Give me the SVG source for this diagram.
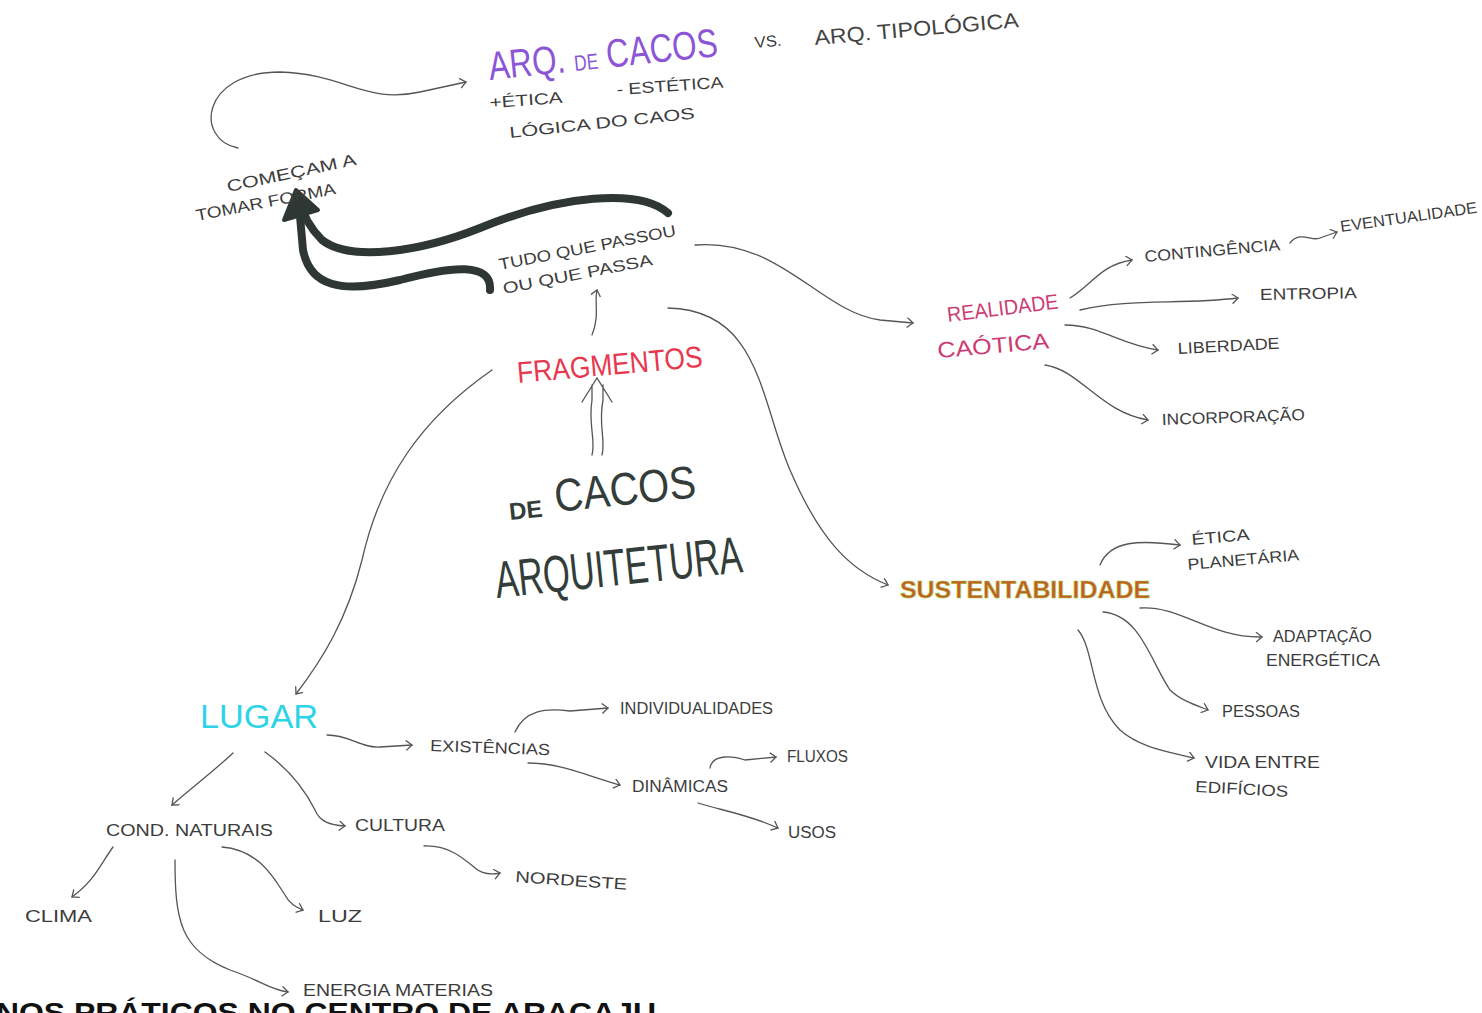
<svg xmlns="http://www.w3.org/2000/svg" width="1482" height="1013" viewBox="0 0 1482 1013">
<style>
text{font-family:"Liberation Sans",Arial,sans-serif;}
.h{font-size:16px;fill:#3c3c3c;}
.c{fill:none;stroke:#555;stroke-width:1.3;stroke-linecap:round;}
.t{fill:none;stroke:#2f3734;stroke-width:8;stroke-linecap:round;stroke-linejoin:round;}
</style>
<defs>
<marker id="a" markerWidth="12" markerHeight="12" refX="8" refY="5" orient="auto" markerUnits="userSpaceOnUse">
<path d="M2,0 L8,5 L2,10" fill="none" stroke="#555" stroke-width="1.3"/>
</marker>
</defs>
<rect width="1482" height="1013" fill="#ffffff"/>
<g id="connectors">
<path class="c" d="M238 148 C195 140 200 72 280 72 C345 74 365 104 420 92 L466 82" marker-end="url(#a)"/>
<path class="t" d="M668 213 C640 188 560 195 480 228 C420 252 350 262 322 240 C308 226 302 212 299 200"/>
<path class="t" d="M490 290 C492 262 452 266 400 280 C340 294 310 286 303 250 L299 205"/>
<path d="M284 220 L296 190 L318 210 Z" fill="#2f3734" stroke="#2f3734" stroke-width="4" stroke-linejoin="round"/>
<path class="c" d="M695 245 C780 238 820 312 880 320 L913 323" marker-end="url(#a)"/>
<path class="c" d="M592 335 C600 315 594 302 597 290" marker-end="url(#a)"/>
<path class="c" d="M592 455 C596 440 588 425 592 400 L592 385 M602 455 C606 440 598 425 603 400 L603 385 M582 402 L597 378 L612 402"/>
<path class="c" d="M668 308 C760 310 760 400 790 470 C820 540 850 570 888 585" marker-end="url(#a)"/>
<path class="c" d="M492 370 C420 420 380 480 362 560 C347 620 322 660 296 694" marker-end="url(#a)"/>
<path class="c" d="M1070 298 C1092 285 1100 265 1132 260" marker-end="url(#a)"/>
<path class="c" d="M1080 310 C1130 298 1180 305 1238 298" marker-end="url(#a)"/>
<path class="c" d="M1065 325 C1100 325 1120 345 1158 350" marker-end="url(#a)"/>
<path class="c" d="M1045 365 C1080 370 1100 412 1148 420" marker-end="url(#a)"/>
<path class="c" d="M1290 243 C1300 230 1312 242 1320 238 L1337 232" marker-end="url(#a)"/>
<path class="c" d="M1100 565 C1110 540 1140 540 1180 545" marker-end="url(#a)"/>
<path class="c" d="M1140 608 C1180 605 1210 638 1262 637" marker-end="url(#a)"/>
<path class="c" d="M1103 612 C1140 615 1150 660 1170 690 C1180 700 1195 705 1208 710" marker-end="url(#a)"/>
<path class="c" d="M1078 630 C1095 650 1090 700 1120 730 C1140 748 1170 752 1194 758" marker-end="url(#a)"/>
<path class="c" d="M327 735 C350 735 360 748 380 747 L412 745" marker-end="url(#a)"/>
<path class="c" d="M515 732 C525 710 545 708 570 711 L608 708" marker-end="url(#a)"/>
<path class="c" d="M528 763 C560 763 585 775 620 785" marker-end="url(#a)"/>
<path class="c" d="M710 768 C712 755 730 755 745 760 L776 757" marker-end="url(#a)"/>
<path class="c" d="M698 803 C720 810 750 815 778 828" marker-end="url(#a)"/>
<path class="c" d="M233 753 C215 770 195 785 172 805" marker-end="url(#a)"/>
<path class="c" d="M265 752 C290 770 305 790 315 810 C320 822 330 825 345 826" marker-end="url(#a)"/>
<path class="c" d="M113 847 C100 865 95 880 72 897" marker-end="url(#a)"/>
<path class="c" d="M222 847 C260 850 275 880 285 895 C290 905 298 908 303 910" marker-end="url(#a)"/>
<path class="c" d="M175 860 C175 920 180 950 230 970 C260 980 270 990 288 992" marker-end="url(#a)"/>
<path class="c" d="M424 846 C450 845 465 860 475 868 C482 874 490 875 500 873" marker-end="url(#a)"/>
</g>
<g id="arq-cacos">
<text x="490" y="80" font-size="40" fill="#8b55d6" textLength="230" lengthAdjust="spacingAndGlyphs" transform="rotate(-6 490 80)">ARQ. <tspan font-size="22">DE</tspan> CACOS</text>
<text class="h" x="755" y="48" textLength="27" lengthAdjust="spacingAndGlyphs" transform="rotate(-5 755 48)">VS.</text>
<text x="815" y="45" font-size="21" fill="#444" textLength="205" lengthAdjust="spacingAndGlyphs" transform="rotate(-5 815 45)">ARQ. TIPOLÓGICA</text>
<text class="h" x="490" y="108" textLength="73" lengthAdjust="spacingAndGlyphs" transform="rotate(-4 490 108)">+ÉTICA</text>
<text class="h" x="617" y="95" textLength="107" lengthAdjust="spacingAndGlyphs" transform="rotate(-4 617 95)">- ESTÉTICA</text>
<text class="h" x="510" y="138" textLength="186" lengthAdjust="spacingAndGlyphs" transform="rotate(-6 510 138)">LÓGICA DO CAOS</text>
</g>
<g id="comecam">
<text class="h" x="228" y="192" font-size="15" textLength="132" lengthAdjust="spacingAndGlyphs" transform="rotate(-12 228 192)">COMEÇAM  A</text>
<text class="h" x="197" y="221" font-size="15" textLength="142" lengthAdjust="spacingAndGlyphs" transform="rotate(-11 197 221)">TOMAR FORMA</text>
</g>
<g id="tudo">
<text class="h" x="500" y="270" textLength="180" lengthAdjust="spacingAndGlyphs" transform="rotate(-11 500 270)">TUDO QUE PASSOU</text>
<text class="h" x="504" y="294" textLength="152" lengthAdjust="spacingAndGlyphs" transform="rotate(-11 504 294)">OU QUE PASSA</text>
</g>
<g id="fragmentos">
<text x="518" y="383" font-size="30" fill="#e8384f" textLength="186" lengthAdjust="spacingAndGlyphs" transform="rotate(-5 518 383)">FRAGMENTOS</text>
</g>
<g id="cacos">
<text x="510" y="520" font-size="24" font-weight="bold" fill="#333d3a" transform="rotate(-6 510 520)">DE</text>
<text x="556" y="512" font-size="46" fill="#333d3a" textLength="142" lengthAdjust="spacingAndGlyphs" transform="rotate(-6 556 512)">CACOS</text>
<text x="497" y="598" font-size="52" fill="#333d3a" textLength="248" lengthAdjust="spacingAndGlyphs" transform="rotate(-6 497 598)">ARQUITETURA</text>
</g>
<g id="realidade">
<text x="948" y="322" font-size="21" fill="#cc3b73" textLength="112" lengthAdjust="spacingAndGlyphs" transform="rotate(-7 948 322)">REALIDADE</text>
<text x="938" y="358" font-size="22" fill="#cc3b73" textLength="112" lengthAdjust="spacingAndGlyphs" transform="rotate(-5 938 358)">CAÓTICA</text>
</g>
<g id="contingencia"><text class="h" x="1145" y="262" textLength="136" lengthAdjust="spacingAndGlyphs" transform="rotate(-5 1145 262)">CONTINGÊNCIA</text></g>
<g id="eventualidade"><text class="h" x="1341" y="232" textLength="138" lengthAdjust="spacingAndGlyphs" transform="rotate(-8 1341 232)">EVENTUALIDADE</text></g>
<g id="entropia"><text class="h" x="1260" y="300" textLength="97" lengthAdjust="spacingAndGlyphs" transform="rotate(-1 1260 300)">ENTROPIA</text></g>
<g id="liberdade"><text class="h" x="1178" y="354" textLength="102" lengthAdjust="spacingAndGlyphs" transform="rotate(-3 1178 354)">LIBERDADE</text></g>
<g id="incorporacao"><text class="h" x="1162" y="425" textLength="143" lengthAdjust="spacingAndGlyphs" transform="rotate(-2 1162 425)">INCORPORAÇÃO</text></g>
<g id="sustentabilidade">
<text x="900" y="598" font-size="24" font-weight="bold" fill="#c85a2a" textLength="250" lengthAdjust="spacingAndGlyphs" stroke="#9bcf3a" stroke-width="0.6">SUSTENTABILIDADE</text>
</g>
<g id="etica-planetaria">
<text class="h" x="1192" y="545" textLength="58" lengthAdjust="spacingAndGlyphs" transform="rotate(-5 1192 545)">ÉTICA</text>
<text class="h" x="1188" y="570" textLength="112" lengthAdjust="spacingAndGlyphs" transform="rotate(-5 1188 570)">PLANETÁRIA</text>
</g>
<g id="adaptacao">
<text class="h" x="1273" y="642" textLength="99" lengthAdjust="spacingAndGlyphs">ADAPTAÇÃO</text>
<text class="h" x="1266" y="666" textLength="114" lengthAdjust="spacingAndGlyphs">ENERGÉTICA</text>
</g>
<g id="pessoas"><text class="h" x="1222" y="717" textLength="78" lengthAdjust="spacingAndGlyphs">PESSOAS</text></g>
<g id="vida">
<text class="h" x="1205" y="768" textLength="115" lengthAdjust="spacingAndGlyphs">VIDA ENTRE</text>
<text class="h" x="1195" y="792" textLength="93" lengthAdjust="spacingAndGlyphs" transform="rotate(3 1195 792)">EDIFÍCIOS</text>
</g>
<g id="lugar"><text x="200" y="728" font-size="34" fill="#2fd3e8" textLength="118" lengthAdjust="spacingAndGlyphs">LUGAR</text></g>
<g id="existencias"><text class="h" x="430" y="751" textLength="120" lengthAdjust="spacingAndGlyphs" transform="rotate(2 430 751)">EXISTÊNCIAS</text></g>
<g id="individualidades"><text class="h" x="620" y="714" textLength="153" lengthAdjust="spacingAndGlyphs">INDIVIDUALIDADES</text></g>
<g id="dinamicas"><text class="h" x="632" y="792" textLength="96" lengthAdjust="spacingAndGlyphs">DINÂMICAS</text></g>
<g id="fluxos"><text class="h" x="787" y="762" textLength="61" lengthAdjust="spacingAndGlyphs">FLUXOS</text></g>
<g id="usos"><text class="h" x="788" y="838" textLength="48" lengthAdjust="spacingAndGlyphs">USOS</text></g>
<g id="cond-naturais"><text class="h" x="106" y="836" textLength="167" lengthAdjust="spacingAndGlyphs">COND. NATURAIS</text></g>
<g id="cultura"><text class="h" x="355" y="831" textLength="90" lengthAdjust="spacingAndGlyphs">CULTURA</text></g>
<g id="nordeste"><text class="h" x="515" y="882" textLength="112" lengthAdjust="spacingAndGlyphs" transform="rotate(4 515 882)">NORDESTE</text></g>
<g id="clima"><text class="h" x="25" y="922" textLength="67" lengthAdjust="spacingAndGlyphs">CLIMA</text></g>
<g id="luz"><text class="h" x="318" y="922" textLength="44" lengthAdjust="spacingAndGlyphs">LUZ</text></g>
<g id="energia"><text class="h" x="303" y="996" textLength="190" lengthAdjust="spacingAndGlyphs">ENERGIA  MATERIAS</text></g>
<text x="-4" y="1022" font-size="28" font-weight="bold" fill="#111" textLength="660" lengthAdjust="spacingAndGlyphs">NOS PRÁTICOS NO CENTRO DE ARACAJU</text>
</svg>
